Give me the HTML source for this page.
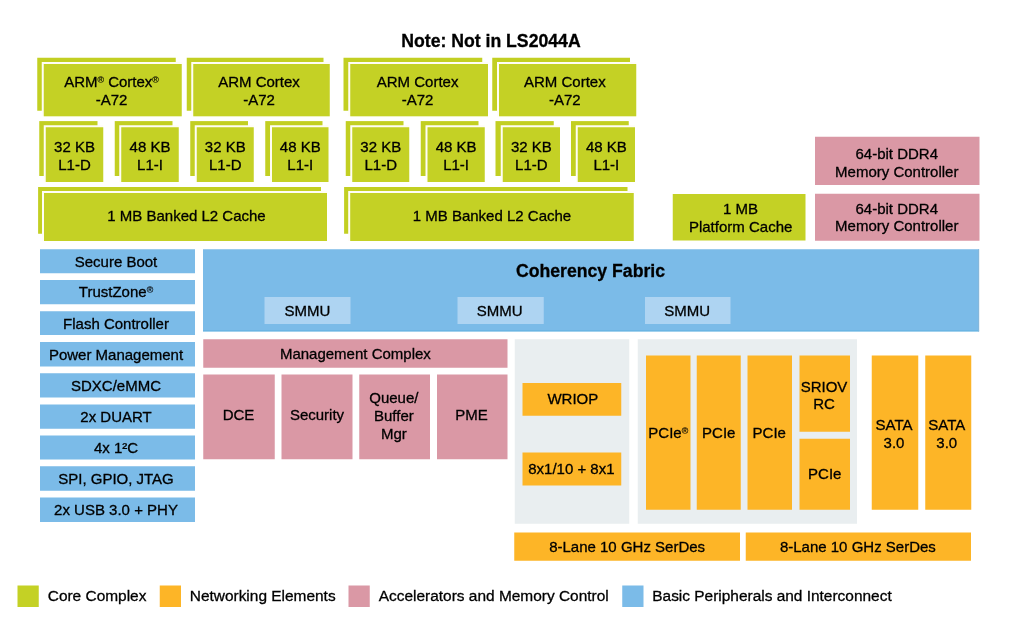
<!DOCTYPE html>
<html><head><meta charset="utf-8"><title>LS2084A Block Diagram</title>
<style>
html,body{margin:0;padding:0;background:#fff;}
body{width:1014px;height:633px;position:relative;overflow:hidden;font-family:"Liberation Sans",Arial,sans-serif;color:#000;-webkit-text-stroke:0.3px #000;}
.b{position:absolute;display:flex;align-items:center;justify-content:center;text-align:center;font-size:15px;line-height:18px;white-space:nowrap;}
.b span{position:relative;}
.b sup,.t sup{font-size:8.8px;line-height:0;vertical-align:3.8px;-webkit-text-stroke:0.15px #000;}
.t{position:absolute;white-space:nowrap;}
.cf{font-weight:bold;font-size:17.65px;text-align:center;line-height:24px;}
.ttl{font-weight:bold;font-size:17.65px;line-height:22px;}
.lg{font-size:15.45px;line-height:20px;}
</style></head><body>
<svg width="1014" height="633" viewBox="0 0 1014 633" style="position:absolute;left:0;top:0">
<rect x="37.25" y="57.75" width="138.5" height="53.0" fill="#c2cf22"/>
<rect x="41.75" y="62" width="140.0" height="54.3" fill="#fffdf6"/>
<rect x="43.75" y="64" width="138.0" height="52.3" fill="#c4d125"/>
<rect x="186.75" y="57.75" width="136.75" height="53.0" fill="#c2cf22"/>
<rect x="191.25" y="62" width="138.5" height="54.3" fill="#fffdf6"/>
<rect x="193.25" y="64" width="136.5" height="52.3" fill="#c4d125"/>
<rect x="343.5" y="57.75" width="138.75" height="53.0" fill="#c2cf22"/>
<rect x="348.25" y="62" width="139.75" height="54.3" fill="#fffdf6"/>
<rect x="350.25" y="64" width="137.75" height="52.3" fill="#c4d125"/>
<rect x="492.25" y="57.75" width="137.75" height="53.0" fill="#c2cf22"/>
<rect x="497" y="62" width="139.25" height="54.3" fill="#fffdf6"/>
<rect x="499" y="64" width="137.25" height="52.3" fill="#c4d125"/>
<rect x="39.25" y="121.1" width="58.25" height="54.9" fill="#c2cf22"/>
<rect x="43.75" y="125.25" width="59.5" height="56.75" fill="#fffdf6"/>
<rect x="45.75" y="127.25" width="57.5" height="54.75" fill="#c4d125"/>
<rect x="114.75" y="121.1" width="57.75" height="54.9" fill="#c2cf22"/>
<rect x="119.25" y="125.25" width="59.5" height="56.75" fill="#fffdf6"/>
<rect x="121.25" y="127.25" width="57.5" height="54.75" fill="#c4d125"/>
<rect x="190.25" y="121.1" width="57.75" height="54.9" fill="#c2cf22"/>
<rect x="194.75" y="125.25" width="59.0" height="56.75" fill="#fffdf6"/>
<rect x="196.75" y="127.25" width="57.0" height="54.75" fill="#c4d125"/>
<rect x="265.25" y="121.1" width="57.25" height="54.9" fill="#c2cf22"/>
<rect x="270.0" y="125.25" width="58.5" height="56.75" fill="#fffdf6"/>
<rect x="272.0" y="127.25" width="56.5" height="54.75" fill="#c4d125"/>
<rect x="345.75" y="121.1" width="57.75" height="54.9" fill="#c2cf22"/>
<rect x="350.25" y="125.25" width="59.0" height="56.75" fill="#fffdf6"/>
<rect x="352.25" y="127.25" width="57.0" height="54.75" fill="#c4d125"/>
<rect x="420.75" y="121.1" width="57.75" height="54.9" fill="#c2cf22"/>
<rect x="425.5" y="125.25" width="59.25" height="56.75" fill="#fffdf6"/>
<rect x="427.5" y="127.25" width="57.25" height="54.75" fill="#c4d125"/>
<rect x="495.5" y="121.1" width="58.25" height="54.9" fill="#c2cf22"/>
<rect x="500.75" y="125.25" width="59.25" height="56.75" fill="#fffdf6"/>
<rect x="502.75" y="127.25" width="57.25" height="54.75" fill="#c4d125"/>
<rect x="571.0" y="121.1" width="57.75" height="54.9" fill="#c2cf22"/>
<rect x="575.75" y="125.25" width="59.25" height="56.75" fill="#fffdf6"/>
<rect x="577.75" y="127.25" width="57.25" height="54.75" fill="#c4d125"/>
<rect x="38.1" y="187" width="282.9" height="46.75" fill="#c2cf22"/>
<rect x="42" y="191" width="285" height="50" fill="#fffdf6"/>
<rect x="44" y="193" width="283" height="48" fill="#c4d125"/>
<rect x="344.1" y="187" width="283.4" height="46.75" fill="#c2cf22"/>
<rect x="348.2" y="191" width="285.55" height="50" fill="#fffdf6"/>
<rect x="350.2" y="193" width="283.55" height="48" fill="#c4d125"/>
<rect x="672.75" y="194" width="132.75" height="46.5" fill="#c4d125"/>
<rect x="815" y="136.75" width="164.5" height="48.25" fill="#da98a5"/>
<rect x="815" y="193.75" width="164.5" height="47.0" fill="#da98a5"/>
<rect x="40" y="249.25" width="155" height="24.0" fill="#7bbbe8"/>
<rect x="40" y="280" width="155" height="24.25" fill="#7bbbe8"/>
<rect x="40" y="311.25" width="155" height="23.75" fill="#7bbbe8"/>
<rect x="40" y="342" width="155" height="24.5" fill="#7bbbe8"/>
<rect x="40" y="373.25" width="155" height="24.25" fill="#7bbbe8"/>
<rect x="40" y="404.5" width="155" height="24.25" fill="#7bbbe8"/>
<rect x="40" y="435.5" width="155" height="24.0" fill="#7bbbe8"/>
<rect x="40" y="466.25" width="155" height="24.5" fill="#7bbbe8"/>
<rect x="40" y="497.5" width="155" height="24.5" fill="#7bbbe8"/>
<rect x="203" y="249.25" width="776.1" height="82.15" fill="#7bbbe8"/>
<rect x="203" y="330.2" width="776.1" height="1.2" fill="#68b3e1"/>
<rect x="978" y="249.25" width="1.1" height="82.15" fill="#86b7da"/>
<rect x="264.5" y="297" width="86.0" height="27" fill="#aed4f2"/>
<rect x="457.5" y="297" width="86.25" height="27" fill="#aed4f2"/>
<rect x="645" y="297" width="85.5" height="27" fill="#aed4f2"/>
<rect x="203.25" y="339.25" width="304.25" height="28.5" fill="#da98a5"/>
<rect x="203.25" y="374.5" width="71.5" height="84.75" fill="#da98a5"/>
<rect x="281.5" y="374.5" width="71.0" height="84.75" fill="#da98a5"/>
<rect x="359.25" y="374.5" width="70.75" height="84.75" fill="#da98a5"/>
<rect x="437" y="374.5" width="70.5" height="84.75" fill="#da98a5"/>
<rect x="514.75" y="339.25" width="114.5" height="184.5" fill="#e9eef0"/>
<rect x="637.75" y="339.25" width="219.25" height="184.5" fill="#e9eef0"/>
<rect x="522.5" y="383" width="98.75" height="32.75" fill="#fdb527"/>
<rect x="522.5" y="452.5" width="98.75" height="33.0" fill="#fdb527"/>
<rect x="646" y="355.5" width="44.5" height="154.25" fill="#fdb527"/>
<rect x="696.75" y="355.5" width="44.0" height="154.25" fill="#fdb527"/>
<rect x="747.5" y="355.5" width="44.5" height="154.25" fill="#fdb527"/>
<rect x="799.5" y="355.5" width="50.5" height="76.25" fill="#fdb527"/>
<rect x="799.5" y="438.75" width="50.5" height="71.0" fill="#fdb527"/>
<rect x="871.75" y="355.5" width="46.5" height="154.25" fill="#fdb527"/>
<rect x="925.25" y="355.5" width="46.0" height="154.25" fill="#fdb527"/>
<rect x="514.25" y="532.5" width="225.75" height="28.25" fill="#fdb527"/>
<rect x="745.75" y="532.5" width="225.25" height="28.25" fill="#fdb527"/>
<rect x="17.5" y="585.5" width="21.25" height="21.5" fill="#c4d125"/>
<rect x="159.75" y="585.5" width="21.25" height="21.5" fill="#fdb527"/>
<rect x="348.5" y="585.5" width="21.25" height="21.5" fill="#da98a5"/>
<rect x="622.25" y="585.5" width="21.25" height="21.5" fill="#7bbbe8"/>
</svg>
<div class="b " style="left:43.75px;top:64px;width:138.0px;height:52.3px;"><span style="top:1px;left:-1.25px">ARM<sup>®</sup> Cortex<sup>®</sup><br>-A72</span></div>
<div class="b " style="left:193.25px;top:64px;width:136.5px;height:52.3px;"><span style="top:1px;left:-2.5px">ARM Cortex<br>-A72</span></div>
<div class="b " style="left:350.25px;top:64px;width:137.75px;height:52.3px;"><span style="top:1px;left:-1.5px">ARM Cortex<br>-A72</span></div>
<div class="b " style="left:499px;top:64px;width:137.25px;height:52.3px;"><span style="top:1px;left:-2.75px">ARM Cortex<br>-A72</span></div>
<div class="b " style="left:45.75px;top:127.25px;width:57.5px;height:54.75px;"><span style="top:1px;left:0px">32 KB<br>L1-D</span></div>
<div class="b " style="left:121.25px;top:127.25px;width:57.5px;height:54.75px;"><span style="top:1px;left:0px">48 KB<br>L1-I</span></div>
<div class="b " style="left:196.75px;top:127.25px;width:57.0px;height:54.75px;"><span style="top:1px;left:0px">32 KB<br>L1-D</span></div>
<div class="b " style="left:272.0px;top:127.25px;width:56.5px;height:54.75px;"><span style="top:1px;left:0px">48 KB<br>L1-I</span></div>
<div class="b " style="left:352.25px;top:127.25px;width:57.0px;height:54.75px;"><span style="top:1px;left:0px">32 KB<br>L1-D</span></div>
<div class="b " style="left:427.5px;top:127.25px;width:57.25px;height:54.75px;"><span style="top:1px;left:0px">48 KB<br>L1-I</span></div>
<div class="b " style="left:502.75px;top:127.25px;width:57.25px;height:54.75px;"><span style="top:1px;left:0px">32 KB<br>L1-D</span></div>
<div class="b " style="left:577.75px;top:127.25px;width:57.25px;height:54.75px;"><span style="top:1px;left:0px">48 KB<br>L1-I</span></div>
<div class="b " style="left:44px;top:193px;width:283px;height:48px;"><span style="top:-1px;left:1px">1 MB Banked L2 Cache</span></div>
<div class="b " style="left:350.2px;top:193px;width:283.55px;height:48px;"><span style="top:-1px;left:0px">1 MB Banked L2 Cache</span></div>
<div class="b " style="left:672.75px;top:194px;width:132.75px;height:46.5px;"><span style="top:1px;left:1.5px">1 MB<br>Platform Cache</span></div>
<div class="b " style="left:815px;top:136.75px;width:164.5px;height:48.25px;"><span style="top:2px;left:-0.5px">64-bit DDR4<br>Memory Controller</span></div>
<div class="b " style="left:815px;top:193.75px;width:164.5px;height:47.0px;line-height:17px"><span style="top:0px;left:-0.5px">64-bit DDR4<br>Memory Controller</span></div>
<div class="b " style="left:40px;top:249.25px;width:155px;height:24.0px;"><span style="top:1px;left:-1.5px">Secure Boot</span></div>
<div class="b " style="left:40px;top:280px;width:155px;height:24.25px;"><span style="top:0px;left:-1.5px">TrustZone<sup>®</sup></span></div>
<div class="b " style="left:40px;top:311.25px;width:155px;height:23.75px;"><span style="top:1px;left:-1.5px">Flash Controller</span></div>
<div class="b " style="left:40px;top:342px;width:155px;height:24.5px;"><span style="top:1px;left:-1.5px">Power Management</span></div>
<div class="b " style="left:40px;top:373.25px;width:155px;height:24.25px;"><span style="top:1px;left:-1.5px">SDXC/eMMC</span></div>
<div class="b " style="left:40px;top:404.5px;width:155px;height:24.25px;"><span style="top:0px;left:-1.5px">2x DUART</span></div>
<div class="b " style="left:40px;top:435.5px;width:155px;height:24.0px;"><span style="top:0px;left:-1.5px">4x 1²C</span></div>
<div class="b " style="left:40px;top:466.25px;width:155px;height:24.5px;"><span style="top:0px;left:-1.5px">SPI, GPIO, JTAG</span></div>
<div class="b " style="left:40px;top:497.5px;width:155px;height:24.5px;"><span style="top:0px;left:-1.5px">2x USB 3.0 + PHY</span></div>
<div class="t cf" style="left:202px;top:259px;width:777px;">Coherency Fabric</div>
<div class="b " style="left:264.5px;top:297px;width:86.0px;height:27px;"><span style="top:0px;left:0px">SMMU</span></div>
<div class="b " style="left:457.5px;top:297px;width:86.25px;height:27px;"><span style="top:0px;left:-1px">SMMU</span></div>
<div class="b " style="left:645px;top:297px;width:85.5px;height:27px;"><span style="top:0px;left:-0.5px">SMMU</span></div>
<div class="b " style="left:203.25px;top:339.25px;width:304.25px;height:28.5px;"><span style="top:0px;left:0px">Management Complex</span></div>
<div class="b " style="left:203.25px;top:374.5px;width:71.5px;height:84.75px;"><span style="top:-1.5px;left:-0.5px">DCE</span></div>
<div class="b " style="left:281.5px;top:374.5px;width:71.0px;height:84.75px;"><span style="top:-1.5px;left:0px">Security</span></div>
<div class="b " style="left:359.25px;top:374.5px;width:70.75px;height:84.75px;"><span style="top:-0.5px;left:-0.75px">Queue/<br>Buffer<br>Mgr</span></div>
<div class="b " style="left:437px;top:374.5px;width:70.5px;height:84.75px;"><span style="top:-1.5px;left:-0.75px">PME</span></div>
<div class="b " style="left:522.5px;top:383px;width:98.75px;height:32.75px;"><span style="top:0px;left:1px">WRIOP</span></div>
<div class="b " style="left:522.5px;top:452.5px;width:98.75px;height:33.0px;"><span style="top:0px;left:-0.5px">8x1/10 + 8x1</span></div>
<div class="b " style="left:646px;top:355.5px;width:44.5px;height:154.25px;"><span style="top:0px;left:0px">PCIe<sup>®</sup></span></div>
<div class="b " style="left:696.75px;top:355.5px;width:44.0px;height:154.25px;"><span style="top:0px;left:0px">PCIe</span></div>
<div class="b " style="left:747.5px;top:355.5px;width:44.5px;height:154.25px;"><span style="top:0px;left:-0.5px">PCIe</span></div>
<div class="b " style="left:799.5px;top:355.5px;width:50.5px;height:76.25px;line-height:17px"><span style="top:1px;left:-0.75px">SRIOV<br>RC</span></div>
<div class="b " style="left:799.5px;top:438.75px;width:50.5px;height:71.0px;"><span style="top:0px;left:0px">PCIe</span></div>
<div class="b " style="left:871.75px;top:355.5px;width:46.5px;height:154.25px;"><span style="top:1px;left:-1px">SATA<br>3.0</span></div>
<div class="b " style="left:925.25px;top:355.5px;width:46.0px;height:154.25px;"><span style="top:1px;left:-1.5px">SATA<br>3.0</span></div>
<div class="b " style="left:514.25px;top:532.5px;width:225.75px;height:28.25px;"><span style="top:0px;left:0px">8-Lane 10 GHz SerDes</span></div>
<div class="b " style="left:745.75px;top:532.5px;width:225.25px;height:28.25px;"><span style="top:0px;left:-0.5px">8-Lane 10 GHz SerDes</span></div>
<div class="t lg" style="left:47.75px;top:586px;">Core Complex</div>
<div class="t lg" style="left:189.75px;top:586px;">Networking Elements</div>
<div class="t lg" style="left:378.75px;top:586px;">Accelerators and Memory Control</div>
<div class="t lg" style="left:652.25px;top:586px;">Basic Peripherals and Interconnect</div>
<div class="t ttl" style="left:401.25px;top:30px;">Note: Not in LS2044A</div>
</body></html>
